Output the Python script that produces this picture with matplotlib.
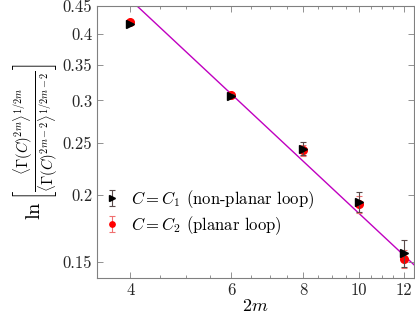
import numpy as np
import matplotlib
matplotlib.use("Agg")
import matplotlib.pyplot as plt
from matplotlib.ticker import FixedLocator, NullLocator, NullFormatter, FixedFormatter

plt.rcParams["font.family"] = "serif"
plt.rcParams["font.serif"] = ["cmr10", "DejaVu Serif"]
plt.rcParams["mathtext.fontset"] = "cm"
plt.rcParams["axes.unicode_minus"] = False
plt.rcParams["axes.formatter.use_mathtext"] = True

# data
two_m = [4, 6, 8, 10, 12]
c1_vals = [0.417, 0.306, 0.244, 0.194, 0.156]
c1_errs = [0.002, 0.002, 0.007, 0.0085, 0.009]
c2_vals = [0.421, 0.307, 0.242, 0.192, 0.152]
c2_errs = [0.002, 0.002, 0.006, 0.007, 0.006]

# power-law fit y = amp * x^expo
fit_amp = 1.85
fit_expo = -1.0

y_ticks = [0.15, 0.2, 0.25, 0.3, 0.35, 0.4, 0.45]
y_tick_labels = ["0.15", "0.2", "0.25", "0.3", "0.35", "0.4", "0.45"]
x_ticks = [4, 6, 8, 10, 12]

fig = plt.figure(figsize=(4.15, 3.22), dpi=100)
ax = fig.add_axes([0.234, 0.137, 0.764, 0.844])

xf = np.linspace(3.5, 12.5, 200)
ax.plot(xf, fit_amp * xf ** fit_expo, color="#c000c0", lw=1.0, zorder=1)

h1 = ax.errorbar(two_m, c1_vals, yerr=c1_errs, fmt=">", color="black",
                 ecolor="#5a4a4a", elinewidth=0.8, capsize=2.5, capthick=0.8,
                 markersize=5.5, zorder=4,
                 label=r"$C = C_1$ (non-planar loop)")
h2 = ax.errorbar(two_m, c2_vals, yerr=c2_errs, fmt="o", color="red",
                 ecolor="#f07070", elinewidth=0.8, capsize=2.5, capthick=0.8,
                 markersize=5.5, zorder=3,
                 label=r"$C = C_2$ (planar loop)")

ax.set_xscale("log")
ax.set_yscale("log")
ax.set_xlim(3.5, 12.5)
ax.set_ylim(0.14, 0.45)

ax.xaxis.set_major_locator(FixedLocator(x_ticks))
ax.xaxis.set_major_formatter(FixedFormatter([str(v) for v in x_ticks]))
ax.xaxis.set_minor_locator(FixedLocator(np.arange(3.5, 12.51, 0.5)))
ax.xaxis.set_minor_formatter(NullFormatter())
ax.yaxis.set_major_locator(FixedLocator(y_ticks))
ax.yaxis.set_major_formatter(FixedFormatter(y_tick_labels))
ax.yaxis.set_minor_locator(NullLocator())

ax.tick_params(which="both", direction="in", top=True, right=True,
               color="#808080", labelcolor="#262626", labelsize=12)
ax.tick_params(which="major", length=4, width=0.6)
ax.tick_params(which="minor", length=2.5, width=0.6)
for s in ax.spines.values():
    s.set_color("#808080")
    s.set_linewidth(0.8)

ax.set_xlabel(r"$2m$", fontsize=13, labelpad=0)
ax.set_ylabel(r"$\ln\left[\frac{\langle\Gamma(C)^{2m}\rangle^{1/2m}}"
              r"{\langle\Gamma(C)^{2m-2}\rangle^{1/2m-2}}\right]$",
              fontsize=15, labelpad=2)

ax.legend(handles=[h1, h2], loc="lower left", bbox_to_anchor=(-0.01, 0.115),
          frameon=False, fontsize=12, handlelength=1.0, handletextpad=0.6,
          labelspacing=0.2, borderaxespad=0.2, markerscale=0.7)

fig.savefig("out.png", dpi=100)
